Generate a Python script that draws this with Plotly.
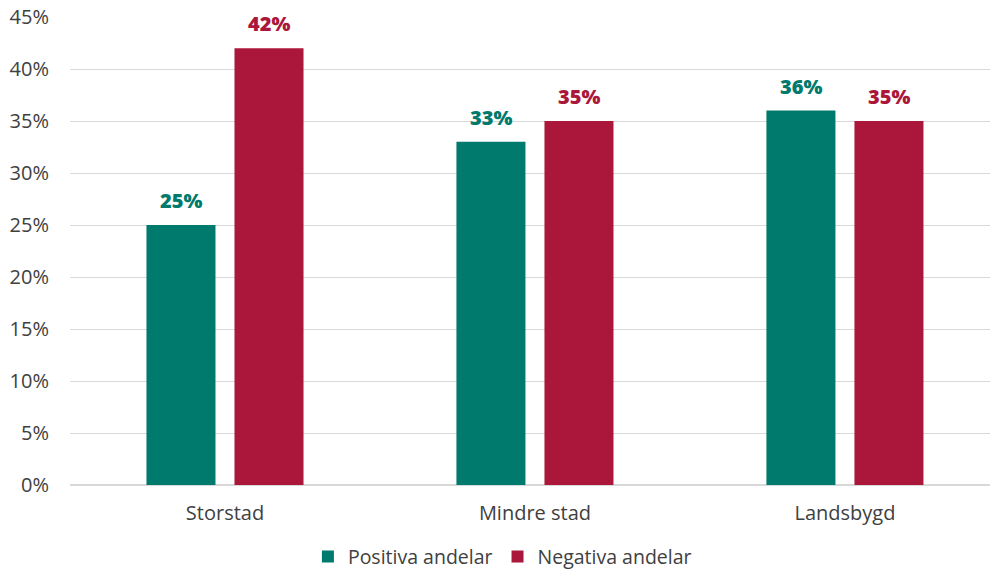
import plotly.graph_objects as go

categories = ["Storstad", "Mindre stad", "Landsbygd"]
positiva = [25, 33, 36]
negativa = [42, 35, 35]
series_names = ["Positiva andelar", "Negativa andelar"]
tick_vals = [0, 5, 10, 15, 20, 25, 30, 35, 40, 45]
tick_text = [f"{v}%" for v in tick_vals]

green = "#007A6C"
red = "#AB173B"
font_family = "Open Sans, Lato, sans-serif"

fig = go.Figure()
series = [(series_names[0], positiva, green, -44), (series_names[1], negativa, red, 44)]
for name, vals, col, dx in series:
    fig.add_trace(go.Bar(
        x=categories, y=vals, name=name, marker=dict(color=col, line=dict(width=0)),
    ))
    for c, v in zip(categories, vals):
        fig.add_annotation(
            x=c, y=v, xref="x", yref="y", text=f"{v}%", showarrow=False,
            xshift=dx, yshift=9, yanchor="bottom", xanchor="center",
            font=dict(color=col, size=20, family="Open Sans, sans-serif", weight=800),
        )

fig.update_layout(
    width=990, height=571,
    margin=dict(l=70, r=0, t=17, b=86, autoexpand=False),
    paper_bgcolor="white", plot_bgcolor="white",
    barmode="group", bargap=0.432, bargroupgap=0.216,
    font=dict(family=font_family, size=20, color="#404040"),
    showlegend=True,
    legend=dict(orientation="h", x=0.47, xanchor="center", y=-0.112, yanchor="top",
                font=dict(size=19.5, color="#404040"), itemwidth=30, traceorder="normal"),
    xaxis=dict(range=[-0.5, 2.468], showline=False, ticks="", tickfont=dict(size=20),
               ticklabelstandoff=14, automargin=False),
    yaxis=dict(range=[0, 45], tickvals=tick_vals, ticktext=tick_text,
               showgrid=True, gridcolor="#D9D9D9", gridwidth=1, zeroline=True,
               zerolinecolor="#D9D9D9", ticks="", ticklabelstandoff=20,
               tickfont=dict(size=20), automargin=False),
)

fig.write_html("out.html")
